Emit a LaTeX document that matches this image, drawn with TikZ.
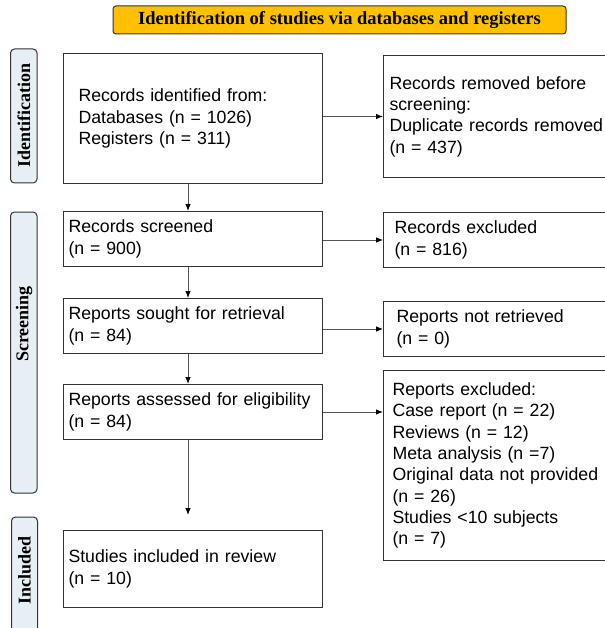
\documentclass[tikz,border=0pt]{standalone}
\usepackage{fontspec}
\setmainfont{Liberation Sans}
\newfontfamily\serifbold{Liberation Serif}[BoldFont={Liberation Serif Bold}]
\usetikzlibrary{arrows.meta}
\definecolor{titleorange}{HTML}{FFC000}
\definecolor{sidefill}{HTML}{E6EFF3}
\definecolor{linegray}{HTML}{333333}
\definecolor{arrgray}{HTML}{555555}
\tikzset{
  box/.style={draw=linegray, line width=1pt, rectangle, anchor=north west, align=left,
    inner ysep=0pt, font=\fontsize{17.7}{21.3}\selectfont},
  leftbox/.style={box, minimum width=259pt, inner xsep=5pt, text width=249pt},
  rightbox/.style={box, minimum width=240pt},
  titlebox/.style={draw=linegray, line width=1pt, fill=titleorange, rounded corners=3pt,
    minimum width=453pt, minimum height=28pt, inner sep=0pt,
    font=\serifbold\bfseries\fontsize{18.5}{20}\selectfont},
  sidebox/.style={draw=linegray, line width=1pt, fill=sidefill, rounded corners=4pt},
  sidetext/.style={rotate=90, inner sep=0pt, font=\serifbold\bfseries\fontsize{18}{20}\selectfont},
  arr/.style={draw=arrgray, line width=0.8pt, -{Latex[length=7pt,width=5.5pt,color=black]}}
}
\begin{document}
\begin{tikzpicture}[x=1pt,y=-1pt]
\useasboundingbox (0,0) rectangle (604,628);
\fill[white] (0,0) rectangle (604,628);

% title
\node[titlebox] (title) at (339.5,20) {Identification of studies via databases and registers};

% side labels
\path[sidebox] (10.5,49) rectangle (37,183);
\node[sidetext] (idt) at (24,115.5) {Identification};
\path[sidebox] (10.5,212) rectangle (37,493);
\node[sidetext] (scr) at (24,324) {Screening};
\path[sidebox] (11.5,517) rectangle (37.5,640);
\node[sidetext] (inc) at (24.5,570.5) {Included};

% left boxes
\node[leftbox, minimum height=130pt, inner xsep=15pt, text width=229pt] (b1) at (63,53)
  {Records identified from:\\Databases (n = 1026)\\Registers (n = 311)};
\node[leftbox, minimum height=55pt] (b2) at (63,211) {Records screened\\(n = 900)};
\node[leftbox, minimum height=55pt] (b3) at (63,298) {Reports sought for retrieval\\(n = 84)};
\node[leftbox, minimum height=55pt] (b4) at (63,384) {Reports assessed for eligibility\\(n = 84)};
\node[leftbox, minimum height=77pt] (b5) at (63,530) {Studies included in review\\(n = 10)\par\vspace*{6pt}};

% right boxes
\node[rightbox, minimum height=122pt, inner xsep=6pt, text width=228pt] (r1) at (383,55)
  {Records removed before\\screening:\\Duplicate records removed\\(n = 437)};
\node[rightbox, minimum height=55pt, inner xsep=11pt, text width=218pt] (r2) at (383,212)
  {Records excluded\\(n = 816)};
\node[rightbox, minimum height=55pt, inner xsep=13pt, text width=214pt] (r3) at (383,301)
  {Reports not retrieved\\(n = 0)};
\node[rightbox, minimum height=190pt, inner xsep=9pt, text width=222pt] (r4) at (383,370)
  {Reports excluded:\\Case report (n = 22)\\Reviews (n = 12)\\Meta analysis (n =7)\\Original data not provided\\(n = 26)\\Studies <10 subjects\\(n = 7)\par\vspace*{5pt}};

% connectors
\coordinate (ax) at (188,0);
\coordinate (e5) at (188,515);
\draw[arr] (b1.south -| ax) -- (b2.north -| ax);
\draw[arr] (b2.south -| ax) -- (b3.north -| ax);
\draw[arr] (b3.south -| ax) -- (b4.north -| ax);
\draw[arr] (b4.south -| ax) -- (e5);
\draw[arr] (b1.east |- r1.west) -- (r1.west);
\draw[arr] (b2.east |- r2.west) -- (r2.west);
\draw[arr] (b3.east |- r3.west) -- (r3.west);
\draw[arr] (b4.east) -- (b4.east -| r4.west);
\end{tikzpicture}
\end{document}
